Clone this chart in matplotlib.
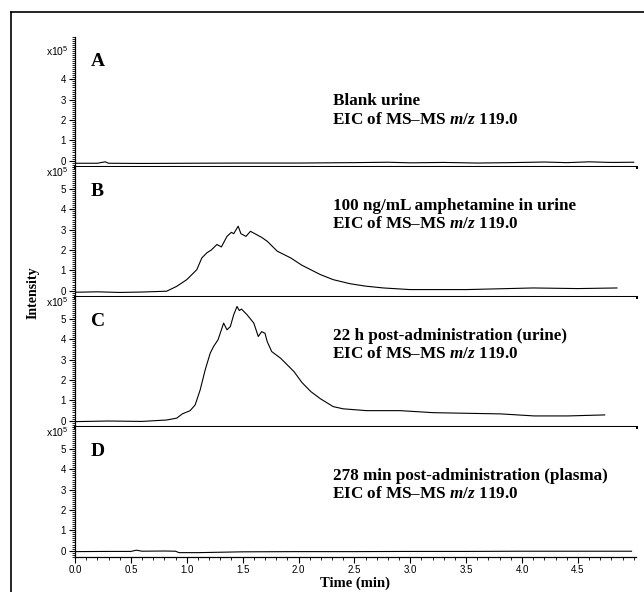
import numpy as np
import matplotlib
matplotlib.use('Agg')
import matplotlib.pyplot as plt
from matplotlib.lines import Line2D
from matplotlib.ticker import MultipleLocator

plt.rcParams['mathtext.fontset'] = 'custom'
plt.rcParams['mathtext.rm'] = 'Liberation Serif:bold'
plt.rcParams['mathtext.it'] = 'Liberation Serif:italic:bold'
plt.rcParams['mathtext.bf'] = 'Liberation Serif:bold'

# Extracted ion chromatograms (intensity in units of 1e5), time in min
t_A = [0.0, 0.2, 0.27, 0.3, 0.6, 1.0, 1.5, 2.0, 2.5, 2.8, 3.0, 3.3, 3.6, 3.9, 4.2, 4.4, 4.6, 4.8, 5.0]
y_A = [-0.13, -0.13, -0.06, -0.13, -0.14, -0.13, -0.12, -0.12, -0.10, -0.08, -0.11, -0.09,
       -0.12, -0.10, -0.07, -0.10, -0.06, -0.09, -0.08]

t_B = [0.0, 0.2, 0.4, 0.6, 0.82, 0.91, 1.0, 1.09, 1.135, 1.18, 1.22, 1.27, 1.31, 1.36, 1.40,
       1.42, 1.46, 1.485, 1.53, 1.57, 1.61, 1.67, 1.72, 1.81, 1.93, 2.03, 2.195, 2.31, 2.46,
       2.6, 2.76, 3.0, 3.5, 4.1, 4.5, 4.85]
y_B = [-0.08, -0.06, -0.09, -0.07, -0.03, 0.21, 0.54, 1.03, 1.61, 1.86, 2.0, 2.27, 2.15, 2.67,
       2.87, 2.8, 3.17, 2.8, 2.67, 2.92, 2.8, 2.62, 2.43, 1.94, 1.61, 1.25, 0.79, 0.54, 0.34,
       0.22, 0.13, 0.05, 0.05, 0.13, 0.10, 0.13]

t_C = [0.0, 0.3, 0.6, 0.82, 0.91, 0.96, 1.03, 1.075, 1.12, 1.165, 1.21, 1.24, 1.28, 1.33, 1.36,
       1.39, 1.42, 1.45, 1.47, 1.49, 1.54, 1.60, 1.64, 1.67, 1.70, 1.72, 1.76, 1.84, 1.90, 1.96,
       2.03, 2.11, 2.195, 2.31, 2.40, 2.61, 2.91, 3.21, 3.51, 3.81, 4.11, 4.41, 4.74]
y_C = [-0.05, -0.02, -0.04, 0.03, 0.12, 0.33, 0.49, 0.77, 1.51, 2.5, 3.32, 3.65, 3.98, 4.8, 4.47,
       4.63, 5.21, 5.62, 5.42, 5.49, 5.21, 4.8, 4.14, 4.38, 4.3, 3.89, 3.4, 3.07, 2.74, 2.41,
       1.88, 1.43, 1.08, 0.69, 0.58, 0.49, 0.49, 0.39, 0.36, 0.33, 0.23, 0.23, 0.28]

t_D = [0.0, 0.3, 0.5, 0.55, 0.6, 0.8, 0.9, 0.93, 1.1, 1.5, 2.0, 2.5, 3.0, 3.5, 4.0, 4.5, 4.98]
y_D = [-0.05, -0.04, -0.04, 0.02, -0.03, -0.02, -0.03, -0.10, -0.10, -0.06, -0.05, -0.05,
       -0.04, -0.04, -0.03, -0.03, -0.03]

letters = ['A', 'B', 'C', 'D']
line1 = ['Blank urine', '100 ng/mL amphetamine in urine',
         '22 h post-administration (urine)', '278 min post-administration (plasma)']
line1_y = [2.92, 4.17, 4.16, 3.67]
times = [t_A, t_B, t_C, t_D]
traces = [y_A, y_B, y_C, y_D]

W, H = 644, 592
fig = plt.figure(figsize=(W / 100, H / 100), dpi=100)

# outer frame (left and top edges visible)
fig.add_artist(Line2D([11 / W, 11 / W], [0, 1 - 12 / H], color='black', lw=1.2, transform=fig.transFigure))
fig.add_artist(Line2D([11 / W, 1], [1 - 12 / H, 1 - 12 / H], color='black', lw=1.2, transform=fig.transFigure))

left, right = 75 / W, 636 / W
panel_h = 130
top0 = 36.7
axes = []
for i in range(4):
    top = top0 + i * panel_h
    ax = fig.add_axes([left, 1 - (top + panel_h) / H, right - left, panel_h / H])
    axes.append(ax)
    ax.plot(times[i], traces[i], color='black', lw=0.8)
    ax.set_xlim(0, 5.02)
    ax.set_ylim(-0.3, 6.1)
    ax.spines['top'].set_visible(False)
    ax.spines['right'].set_visible(False)
    ax.spines['left'].set_linewidth(0.9)
    ax.yaxis.set_minor_locator(MultipleLocator(0.1))
    ax.set_yticks([0, 1, 2, 3, 4, 5] if i > 0 else [0, 1, 2, 3, 4])
    ax.tick_params(axis='y', which='major', length=4.5, width=0.8, pad=2, labelsize=7)
    ax.tick_params(axis='y', which='minor', length=2.5, width=0.6)
    for lab in ax.get_yticklabels():
        lab.set_fontfamily('Liberation Sans')
    ax.text(-0.011, 5.8 if i > 0 else 5.35, r'x10$^{\mathregular{5}}$', transform=ax.get_yaxis_transform(),
            ha='right', va='center', fontsize=7.5, family='Liberation Sans')
    ax.text(0.14, 4.9, letters[i], ha='left', va='center', fontsize=14,
            family='Liberation Serif', fontweight='bold')
    ax.text(2.31, line1_y[i], line1[i], ha='left', va='center', fontsize=12.3,
            family='Liberation Serif', fontweight='bold')
    ax.text(2.30, line1_y[i] - 0.9, r'EIC of MS–MS $\mathit{m/z}$ 119.0', ha='left', va='center',
            fontsize=12.3, family='Liberation Serif', fontweight='bold')
    if i < 3:
        ax.spines['bottom'].set_linewidth(2.2)
        ax.tick_params(axis='x', which='both', bottom=False, labelbottom=False)
    else:
        ax.spines['bottom'].set_linewidth(0.9)
        ax.set_xticks(np.arange(0, 4.51, 0.5))
        ax.xaxis.set_minor_locator(MultipleLocator(0.1))
        ax.tick_params(axis='x', which='major', length=4.5, width=0.8, pad=1.2, labelsize=7)
        ax.tick_params(axis='x', which='minor', length=2.5, width=0.6)
        ax.set_xticklabels([f'{v:.1f}' for v in np.arange(0, 4.51, 0.5)], family='Liberation Sans')
        ax.set_xlabel('Time (min)', family='Liberation Serif', fontweight='bold', fontsize=10.5, labelpad=1.5)

fig.text(33 / W, 1 - 293 / H, 'Intensity', rotation=90, ha='center', va='center',
         family='Liberation Serif', fontweight='bold', fontsize=10)

fig.savefig('out.png', dpi=100)
